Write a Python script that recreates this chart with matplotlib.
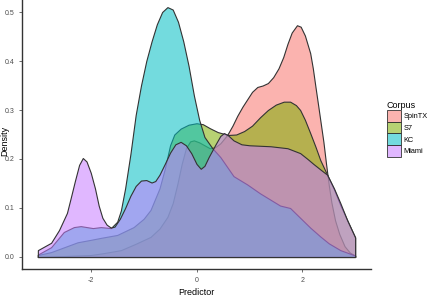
import matplotlib
matplotlib.use("Agg")
import matplotlib.pyplot as plt
from matplotlib.patches import Patch
from matplotlib.colors import to_rgba

plt.rcParams['font.family'] = ['Liberation Sans', 'DejaVu Sans']

# density curves (x = predictor, y = density)
spintx_x = [-3.0, -2.5, -2.0, -1.75, -1.43, -1.15, -0.87, -0.7, -0.55, -0.45, -0.36, -0.28,
            -0.2, -0.12, -0.05, 0.05, 0.15, 0.25, 0.35, 0.45, 0.58, 0.68, 0.77, 0.87, 0.96,
            1.05, 1.15, 1.25, 1.35, 1.45, 1.55, 1.64, 1.72, 1.8, 1.9, 1.97, 2.05, 2.15, 2.2,
            2.25, 2.3, 2.34, 2.4, 2.45, 2.5, 2.55, 2.62, 2.7, 2.8, 2.9, 3.0]
spintx_y = [0.0, 0.002, 0.004, 0.008, 0.014, 0.027, 0.041, 0.058, 0.082, 0.11, 0.15, 0.19,
            0.222, 0.236, 0.238, 0.234, 0.228, 0.222, 0.224, 0.232, 0.249, 0.268, 0.288, 0.307, 0.322,
            0.337, 0.347, 0.35, 0.355, 0.367, 0.385, 0.408, 0.435, 0.458, 0.473, 0.47, 0.452, 0.416, 0.385,
            0.347, 0.31, 0.28, 0.235, 0.19, 0.148, 0.112, 0.075, 0.047, 0.022, 0.009, 0.003]

s7_x = [-3.0, -2.75, -2.5, -2.25, -2.0, -1.81, -1.5, -1.19, -1.0, -0.87, -0.7, -0.6, -0.5,
        -0.42, -0.3, -0.15, 0.0, 0.12, 0.25, 0.4, 0.6, 0.75, 0.9, 1.05, 1.2, 1.35, 1.5, 1.65,
        1.77, 1.88, 1.96, 2.05, 2.15, 2.25, 2.34, 2.47, 2.6, 2.72, 2.85, 3.0]
s7_y = [0.004, 0.01, 0.02, 0.03, 0.035, 0.039, 0.045, 0.061, 0.078, 0.096, 0.14, 0.18, 0.228,
        0.25, 0.262, 0.27, 0.273, 0.271, 0.263, 0.255, 0.249, 0.25, 0.257, 0.268, 0.285, 0.3, 0.311, 0.317,
        0.317, 0.31, 0.30, 0.28, 0.253, 0.225, 0.198, 0.168, 0.138, 0.106, 0.075, 0.04]

kc_x = [-3.0, -2.75, -2.51, -2.32, -2.19, -1.96, -1.81, -1.62, -1.5, -1.43, -1.35, -1.25,
        -1.15, -1.05, -0.95, -0.85, -0.75, -0.65, -0.55, -0.45, -0.35, -0.25, -0.15, -0.05,
        0.05, 0.15, 0.3, 0.45, 0.7, 0.96, 1.2, 1.58, 1.77, 1.96, 2.15, 2.34, 2.5, 2.72, 3.0]
kc_y = [0.005, 0.02, 0.051, 0.061, 0.063, 0.059, 0.061, 0.059, 0.072, 0.095, 0.14, 0.21,
        0.29, 0.35, 0.40, 0.44, 0.475, 0.50, 0.51, 0.505, 0.48, 0.44, 0.39, 0.33,
        0.28, 0.245, 0.222, 0.204, 0.165, 0.148, 0.13, 0.105, 0.10, 0.08, 0.06, 0.042, 0.028, 0.014, 0.003]

miami_x = [-3.0, -2.75, -2.6, -2.45, -2.38, -2.3, -2.22, -2.15, -2.08, -2.0, -1.92, -1.85,
           -1.78, -1.7, -1.62, -1.55, -1.45, -1.35, -1.25, -1.15, -1.05, -0.95, -0.85, -0.78,
           -0.7, -0.6, -0.5, -0.4, -0.3, -0.2, -0.1, 0.0, 0.08, 0.15, 0.23, 0.35, 0.45, 0.52,
           0.6, 0.7, 0.85, 1.0, 1.4, 1.72, 1.96, 2.1, 2.21, 2.35, 2.47, 2.6, 2.72, 2.85, 3.0]
miami_y = [0.014, 0.029, 0.055, 0.09, 0.12, 0.155, 0.188, 0.202, 0.195, 0.172, 0.14, 0.105,
           0.08, 0.066, 0.06, 0.062, 0.078, 0.10, 0.125, 0.145, 0.156, 0.157, 0.152, 0.155,
           0.168, 0.19, 0.213, 0.23, 0.235, 0.228, 0.212, 0.19, 0.18, 0.186, 0.204, 0.228, 0.247, 0.253,
           0.248, 0.238, 0.23, 0.228, 0.226, 0.222, 0.212, 0.2, 0.19, 0.178, 0.168, 0.14, 0.11, 0.075, 0.04]

corpora = ['SpinTX', 'S7', 'KC', 'Miami']
colors = ['#F8766D', '#7CAE00', '#00BFC4', '#C77CFF']
xticks = [-2, 0, 2]
yticks = [0.0, 0.1, 0.2, 0.3, 0.4, 0.5]

fig = plt.figure(figsize=(4.29, 3.0), dpi=100)
ax = fig.add_axes([22 / 429, 31 / 300, 349 / 429, 269 / 300])

series = [(spintx_x, spintx_y), (s7_x, s7_y), (kc_x, kc_y), (miami_x, miami_y)]
for (xs, ys), c in zip(series, colors):
    ax.fill_between(xs, ys, facecolor=to_rgba(c, 0.55), edgecolor='#333333',
                    linewidth=0.8, joinstyle='round')

ax.set_xlim(-3.3, 3.3)
ax.set_ylim(-0.0245, 0.5245)
ax.set_xticks(xticks)
ax.set_xticklabels([str(t) for t in xticks])
ax.set_yticks(yticks)
ax.set_yticklabels(['%.1f' % t for t in yticks])

# classic look: only left/bottom axis lines
for side in ['top', 'right']:
    ax.spines[side].set_visible(False)
for side in ['left', 'bottom']:
    ax.spines[side].set_color('#333333')
    ax.spines[side].set_linewidth(1.0)
ax.tick_params(length=2.5, width=0.6, color='#555555', labelsize=5, labelcolor='#4D4D4D', pad=3)

ax.set_xlabel('Predictor', fontsize=6.5, labelpad=3)
fig.text(5 / 429, 0.53, 'Density', rotation=90, fontsize=6.5, ha='center', va='center')

handles = [Patch(facecolor=to_rgba(c, 0.55), edgecolor='#333333', linewidth=0.6) for c in colors]
fig.legend(handles, corpora, loc='upper left', bbox_to_anchor=(383 / 429, 1 - 97 / 300),
           frameon=False, fontsize=5.3, title='Corpus', title_fontsize=6.5,
           handlelength=2.0, handleheight=2.1, labelspacing=0.0, handletextpad=0.3,
           borderpad=0, alignment='left')

fig.savefig('out.png', dpi=100)
